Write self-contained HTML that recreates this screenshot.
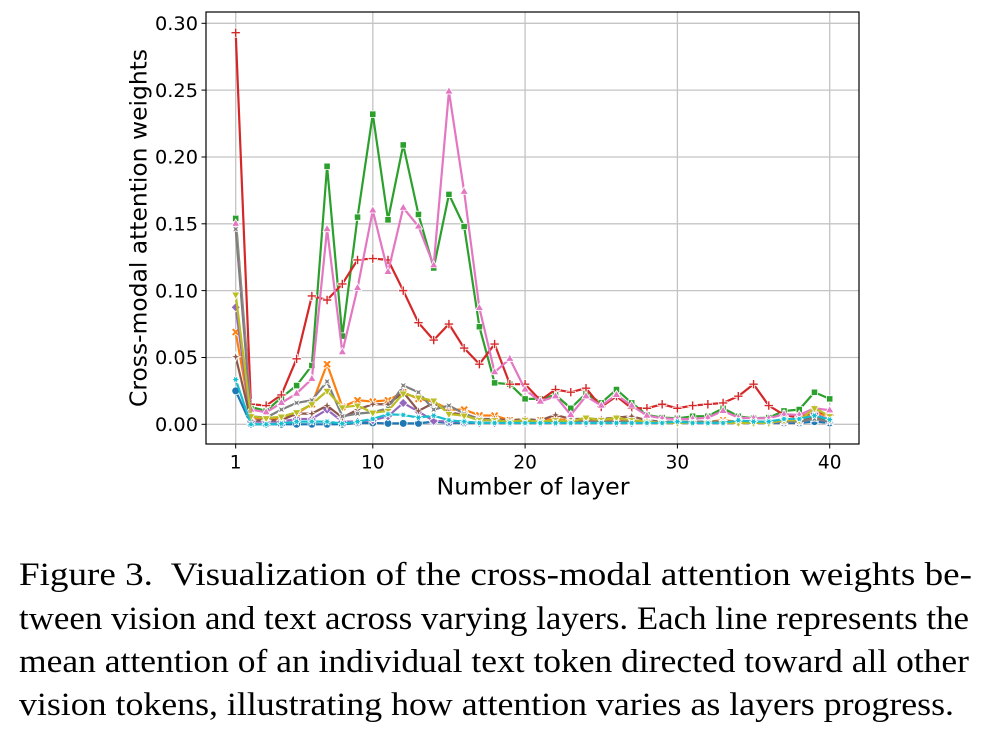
<!DOCTYPE html>
<html>
<head>
<meta charset="utf-8">
<style>
  html,body{margin:0;padding:0;background:#fff;}
  body{width:993px;height:732px;overflow:hidden;}
  svg{display:block;}
  .tick{font-family:"DejaVu Sans","Liberation Sans",sans-serif;font-size:18.5px;fill:#000;}
  .lab{font-family:"DejaVu Sans","Liberation Sans",sans-serif;font-size:23px;fill:#000;}
  .cap{font-family:"Liberation Serif","Times New Roman",serif;font-size:33px;fill:#000;white-space:pre;}
</style>
</head>
<body>
<svg id="fig" width="993" height="732" viewBox="0 0 993 732" xmlns="http://www.w3.org/2000/svg">
  <rect x="0" y="0" width="993" height="732" fill="#fff"/>
  <!-- grid -->
  <g stroke="#c4c4c4" stroke-width="1.3">
    <line x1="235.7" y1="12" x2="235.7" y2="444"/>
    <line x1="372.8" y1="12" x2="372.8" y2="444"/>
    <line x1="525.1" y1="12" x2="525.1" y2="444"/>
    <line x1="677.4" y1="12" x2="677.4" y2="444"/>
    <line x1="829.7" y1="12" x2="829.7" y2="444"/>
    <line x1="206" y1="424.3" x2="859" y2="424.3"/>
    <line x1="206" y1="357.5" x2="859" y2="357.5"/>
    <line x1="206" y1="290.6" x2="859" y2="290.6"/>
    <line x1="206" y1="223.8" x2="859" y2="223.8"/>
    <line x1="206" y1="157.0" x2="859" y2="157.0"/>
    <line x1="206" y1="90.1" x2="859" y2="90.1"/>
    <line x1="206" y1="23.3" x2="859" y2="23.3"/>
  </g>
  <g id="series"></g>
  <!-- frame -->
  <rect x="206" y="12" width="653" height="432" fill="none" stroke="#000" stroke-width="1.2"/>
  <!-- ticks -->
  <g stroke="#000" stroke-width="1">
    <line x1="235.7" y1="444" x2="235.7" y2="448.5"/>
    <line x1="372.8" y1="444" x2="372.8" y2="448.5"/>
    <line x1="525.1" y1="444" x2="525.1" y2="448.5"/>
    <line x1="677.4" y1="444" x2="677.4" y2="448.5"/>
    <line x1="829.7" y1="444" x2="829.7" y2="448.5"/>
    <line x1="201.5" y1="424.3" x2="206" y2="424.3"/>
    <line x1="201.5" y1="357.5" x2="206" y2="357.5"/>
    <line x1="201.5" y1="290.6" x2="206" y2="290.6"/>
    <line x1="201.5" y1="223.8" x2="206" y2="223.8"/>
    <line x1="201.5" y1="157.0" x2="206" y2="157.0"/>
    <line x1="201.5" y1="90.1" x2="206" y2="90.1"/>
    <line x1="201.5" y1="23.3" x2="206" y2="23.3"/>
  </g>
  <!-- tick labels -->
  <g class="tick" text-anchor="middle">
    <text x="235.7" y="468.3">1</text>
    <text x="372.8" y="468.3">10</text>
    <text x="525.1" y="468.3">20</text>
    <text x="677.4" y="468.3">30</text>
    <text x="829.7" y="468.3">40</text>
  </g>
  <g class="tick" text-anchor="end">
    <text x="198" y="431" textLength="43" lengthAdjust="spacingAndGlyphs">0.00</text>
    <text x="198" y="364.2" textLength="43" lengthAdjust="spacingAndGlyphs">0.05</text>
    <text x="198" y="297.3" textLength="43" lengthAdjust="spacingAndGlyphs">0.10</text>
    <text x="198" y="230.5" textLength="43" lengthAdjust="spacingAndGlyphs">0.15</text>
    <text x="198" y="163.7" textLength="43" lengthAdjust="spacingAndGlyphs">0.20</text>
    <text x="198" y="96.8" textLength="43" lengthAdjust="spacingAndGlyphs">0.25</text>
    <text x="198" y="30" textLength="43" lengthAdjust="spacingAndGlyphs">0.30</text>
  </g>
  <!-- axis labels -->
  <text class="lab" x="533" y="494.5" text-anchor="middle" textLength="193" lengthAdjust="spacingAndGlyphs">Number of layer</text>
  <text class="lab" x="0" y="0" text-anchor="middle" textLength="358" lengthAdjust="spacingAndGlyphs" transform="translate(146.5,228) rotate(-90)">Cross-modal attention weights</text>
  <!-- caption -->
  <text class="cap" x="19" y="585" textLength="953" lengthAdjust="spacingAndGlyphs">Figure 3.  Visualization of the cross-modal attention weights be-</text>
  <text class="cap" x="19" y="629" textLength="950" lengthAdjust="spacingAndGlyphs">tween vision and text across varying layers. Each line represents the</text>
  <text class="cap" x="19" y="672" textLength="950" lengthAdjust="spacingAndGlyphs">mean attention of an individual text token directed toward all other</text>
  <text class="cap" x="19" y="715" textLength="935" lengthAdjust="spacingAndGlyphs">vision tokens, illustrating how attention varies as layers progress.</text>
</svg>
<script>
(function(){
  var X=function(l){return 235.7+(l-1)*15.2308;};
  var Y=function(v){return 424.3-v*1336.7;};
  function f(n){return Math.round(n*100)/100;}
  function poly(n,r,rot){var p=[];for(var i=0;i<n;i++){var a=(rot+i*360/n)*Math.PI/180;p.push([r*Math.sin(a),-r*Math.cos(a)]);}return p;}
  function star(n,ro,ri,rot){var p=[];for(var i=0;i<2*n;i++){var r=i%2?ri:ro;var a=(rot+i*180/n)*Math.PI/180;p.push([r*Math.sin(a),-r*Math.cos(a)]);}return p;}
  function plus(a,b,rot){var p=[[-b,-a],[b,-a],[b,-b],[a,-b],[a,b],[b,b],[b,a],[-b,a],[-b,b],[-a,b],[-a,-b],[-b,-b]];var t=rot*Math.PI/180,c=Math.cos(t),s=Math.sin(t);return p.map(function(q){return [q[0]*c-q[1]*s,q[0]*s+q[1]*c];});}
  function tri(r,down){return down?[[0,r],[-r*0.9,-r*0.55],[r*0.9,-r*0.55]]:[[0,-r],[-r*0.9,r*0.55],[r*0.9,r*0.55]];}
  var shapes={
    o:null,
    X:plus(4.6,1.4,45),
    sq:poly(4,4.5,45),
    P:plus(4.6,1.1,0),
    D:poly(4,4.6,0),
    s4:star(4,4.8,1.7,0),
    up:tri(4.6,false),
    s4r:star(4,4.8,1.7,45),
    dn:tri(4.6,true),
    s6:star(6,4.0,2.1,30)
  };
  var S=[
    ["#1f77b4","o",[0.025,0,0,0,0,0,0,0,0.001,0.001,0.0007,0.0007,0.0007,0.002,0.001,0.001,0.001,0.001,0.001,0.001,0.001,0.001,0.001,0.001,0.001,0.001,0.001,0.001,0.001,0.001,0.001,0.001,0.001,0.001,0.001,0.001,0.001,0.001,0.002,0.001]],
    ["#ff7f0e","X",[0.069,0.005,0.004,0.004,0.008,0.015,0.045,0.013,0.018,0.017,0.018,0.024,0.019,0.017,0.011,0.011,0.0067,0.0065,0.003,0.003,0.003,0.004,0.003,0.003,0.003,0.004,0.003,0.002,0.002,0.002,0.002,0.002,0.003,0.002,0.002,0.002,0.003,0.003,0.010,0.005]],
    ["#2ca02c","sq",[0.154,0.013,0.010,0.020,0.029,0.044,0.193,0.066,0.155,0.232,0.153,0.209,0.157,0.117,0.172,0.148,0.073,0.031,0.030,0.019,0.019,0.022,0.012,0.023,0.016,0.026,0.016,0.007,0.005,0.0045,0.006,0.006,0.012,0.006,0.0045,0.005,0.010,0.011,0.024,0.019]],
    ["#d62728","P",[0.293,0.015,0.014,0.022,0.049,0.096,0.093,0.105,0.123,0.124,0.123,0.100,0.076,0.063,0.075,0.057,0.045,0.060,0.030,0.030,0.018,0.026,0.024,0.027,0.013,0.021,0.012,0.012,0.015,0.012,0.014,0.015,0.016,0.021,0.030,0.014,0.007,0.005,0.010,0.007]],
    ["#9467bd","D",[0.0875,0.002,0.002,0.002,0.004,0.004,0.011,0.002,0.002,0.003,0.006,0.016,0.0095,0.0025,0.002,0.002,0.001,0.001,0.001,0.002,0.001,0.002,0.001,0.001,0.001,0.001,0.001,0.001,0.001,0.001,0.001,0.001,0.001,0.001,0.001,0.001,0.002,0.002,0.008,0.003]],
    ["#8c564b","s4",[0.0505,0.003,0.003,0.003,0.008,0.008,0.014,0.005,0.011,0.015,0.015,0.024,0.010,0.016,0.009,0.007,0.004,0.004,0.003,0.004,0.003,0.007,0.004,0.004,0.004,0.005,0.006,0.003,0.002,0.002,0.002,0.002,0.002,0.002,0.002,0.002,0.003,0.003,0.006,0.003]],
    ["#e377c2","up",[0.150,0.011,0.009,0.016,0.023,0.034,0.146,0.054,0.102,0.160,0.114,0.162,0.148,0.119,0.249,0.174,0.087,0.039,0.049,0.026,0.017,0.021,0.007,0.021,0.014,0.022,0.014,0.0065,0.0045,0.004,0.004,0.005,0.010,0.005,0.0045,0.0045,0.0075,0.007,0.012,0.0105]],
    ["#7f7f7f","s4r",[0.146,0.006,0.005,0.011,0.016,0.018,0.032,0.006,0.008,0.009,0.012,0.029,0.024,0.011,0.014,0.008,0.004,0.003,0.002,0.002,0.002,0.002,0.002,0.002,0.002,0.002,0.002,0.002,0.002,0.002,0.002,0.002,0.002,0.002,0.002,0.002,0.002,0.002,0.004,0.002]],
    ["#bcbd22","dn",[0.097,0.006,0.0045,0.0057,0.009,0.015,0.025,0.0127,0.014,0.0087,0.010,0.023,0.020,0.0177,0.0077,0.0065,0.003,0.003,0.002,0.003,0.002,0.003,0.002,0.005,0.003,0.005,0.003,0.002,0.001,0.001,0.001,0.001,0.001,0.001,0.001,0.001,0.003,0.003,0.012,0.006]],
    ["#17becf","s6",[0.0335,0,0,0.0005,0.002,0.002,0.002,0.0005,0.002,0.004,0.0075,0.007,0.005,0.0065,0.003,0.002,0.001,0.001,0.001,0.001,0.001,0.001,0.001,0.001,0.001,0.001,0.001,0.001,0.001,0.002,0.001,0.001,0.001,0.003,0.002,0.002,0.004,0.004,0.0065,0.0035]]
  ];
  var out="";
  S.forEach(function(s){
    var col=s[0],mk=s[1],d=s[2];
    var pts=d.map(function(v,i){return f(X(i+1))+","+f(Y(v));}).join(" ");
    out+='<polyline points="'+pts+'" fill="none" stroke="'+col+'" stroke-width="2.2" stroke-linejoin="round" stroke-linecap="round"/>';
    d.forEach(function(v,i){
      var cx=X(i+1),cy=Y(v);
      if(mk==="o"){
        out+='<circle cx="'+f(cx)+'" cy="'+f(cy)+'" r="3.9" fill="'+col+'" stroke="#fff" stroke-width="0.8"/>';
      } else {
        var p=shapes[mk].map(function(q){return f(cx+q[0])+","+f(cy+q[1]);}).join(" ");
        out+='<polygon points="'+p+'" fill="'+col+'" stroke="#fff" stroke-width="0.8" stroke-linejoin="miter"/>';
      }
    });
  });
  document.getElementById("series").innerHTML=out;
})();
</script>
</body>
</html>
